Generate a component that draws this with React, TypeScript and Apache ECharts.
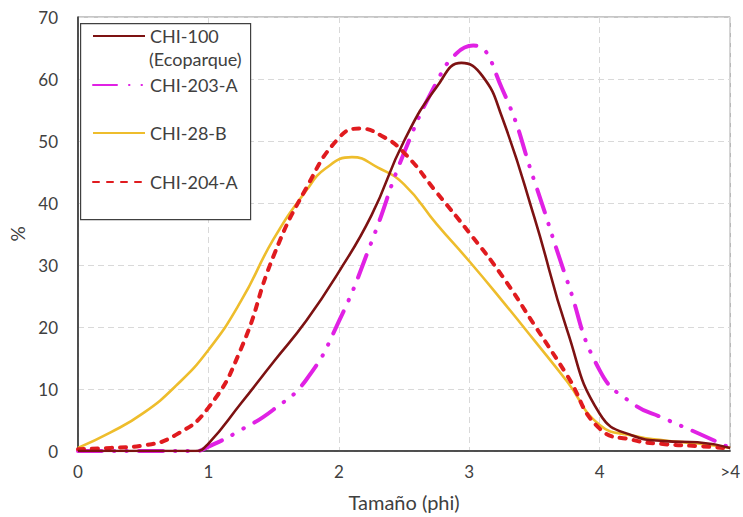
import React, { useEffect, useRef } from "react";
import * as echarts from "echarts";

const xTickLabels = ["0", "1", "2", "3", "4", ">4"]; // value 5 is shown as ">4"

const seriesNames = ["CHI-100 (Ecoparque)", "CHI-203-A", "CHI-28-B", "CHI-204-A"];

// CHI-100 (Ecoparque)
const chi100Phi = [0, 0.5, 0.9, 1, 1.25, 1.5, 1.75, 2, 2.25, 2.5, 2.75, 2.94, 3.1, 3.25, 3.5, 3.75, 4, 4.25, 4.5, 4.75, 5];
const chi100Pct = [0, 0, 0, 1.2, 7.7, 14.4, 21, 28.9, 38, 50, 58.7, 62.6, 60.5, 53.9, 37.6, 19.5, 6, 2.5, 1.6, 1.4, 0.5];
// CHI-203-A
const chi203Phi = [0, 0.5, 0.9, 1, 1.25, 1.5, 1.75, 2, 2.25, 2.5, 2.75, 2.9, 3.03, 3.25, 3.5, 3.75, 4, 4.25, 4.5, 4.75, 5];
const chi203Pct = [0, 0, 0, 0.7, 3.4, 6.7, 11.5, 20.9, 33.7, 48.1, 59.5, 64.1, 65.4, 58.5, 43.5, 27.5, 13, 7.7, 5.2, 2.9, 0.5];
// CHI-28-B
const chi28Phi = [0, 0.25, 0.5, 0.75, 1, 1.25, 1.5, 1.75, 1.9, 2.1, 2.3, 2.5, 2.75, 3, 3.25, 3.5, 3.75, 4, 4.25, 4.5, 4.75, 5];
const chi28Pct = [0.5, 3.0, 6.1, 10.5, 16.3, 24.2, 34.2, 42, 45.6, 47.4, 45.7, 43, 36.6, 30.6, 24.3, 17.8, 11.2, 4.2, 2.5, 1.7, 1.2, 0.5];
// CHI-204-A
const chi204Phi = [0, 0.25, 0.5, 0.75, 1, 1.25, 1.5, 1.75, 2, 2.16, 2.33, 2.5, 2.75, 3, 3.25, 3.5, 3.75, 4, 4.25, 4.5, 4.75, 5];
const chi204Pct = [0.3, 0.5, 0.9, 2.6, 7, 16.5, 31.5, 42.4, 50.5, 52, 50.8, 48.1, 41.7, 35.2, 28.3, 20.3, 12.2, 3.6, 1.8, 1.1, 0.8, 0.4];

const FONT = "Lato, 'Noto Sans', sans-serif";
const TXT = "#404040";

export default function App() {
  const ref = useRef<HTMLDivElement>(null);
  useEffect(() => {
    if (!ref.current) return;
    const chart = echarts.init(ref.current, null, { renderer: "svg" });
    const toPairs = (xs: number[], ys: number[]) => xs.map((x, i) => [x, ys[i]]);
    const legendBase = {
      left: 92,
      orient: "vertical",
      padding: 0,
      itemWidth: 52,
      itemHeight: 14,
      itemGap: 0,
      itemStyle: { opacity: 0 },
      selectedMode: false,
      textStyle: { fontFamily: FONT, fontSize: 18, color: TXT, lineHeight: 20 },
    };
    chart.setOption({
      animation: false,
      backgroundColor: "#fff",
      grid: {
        left: 78,
        right: 8,
        top: 17,
        bottom: 64,
        show: true,
        borderColor: "#8c8c8c",
        borderWidth: 1,
      },
      xAxis: {
        type: "value",
        min: 0,
        max: 5,
        interval: 1,
        name: "Tamaño (phi)",
        nameLocation: "middle",
        nameGap: 41,
        nameTextStyle: { fontFamily: FONT, fontSize: 20, color: TXT },
        axisLine: { show: true, lineStyle: { color: "#262626", width: 1.5 } },
        axisTick: { show: false },
        axisLabel: {
          fontFamily: FONT,
          fontSize: 17,
          color: TXT,
          margin: 12,
          formatter: (v: number) => xTickLabels[Math.round(v)] ?? "",
        },
        splitLine: { show: true, lineStyle: { color: "#d9d9d9", type: [6, 4] } },
      },
      yAxis: {
        type: "value",
        min: 0,
        max: 70,
        interval: 10,
        name: "%",
        nameLocation: "middle",
        nameRotate: 90,
        nameGap: 50,
        nameTextStyle: { fontFamily: FONT, fontSize: 19, color: TXT },
        axisLine: { show: true, lineStyle: { color: "#262626", width: 1.5 } },
        axisTick: { show: false },
        axisLabel: { fontFamily: FONT, fontSize: 17, color: TXT, margin: 20 },
        splitLine: { show: true, lineStyle: { color: "#d9d9d9", type: [6, 4] } },
      },
      legend: [
        { ...legendBase, top: 26, data: [seriesNames[0]], formatter: "CHI-100" },
        { ...legendBase, top: 75, data: [seriesNames[1]] },
        { ...legendBase, top: 123, data: [seriesNames[2]] },
        { ...legendBase, top: 172, data: [seriesNames[3]] },
      ],
      graphic: [
        {
          type: "rect",
          left: 80,
          top: 23,
          z: 3,
          shape: { width: 170, height: 196 },
          style: { fill: "#fff", stroke: "#404040", lineWidth: 1.2 },
        },
        {
          type: "text",
          left: 149,
          top: 50,
          z: 5,
          style: { text: "(Ecoparque)", fontSize: 18, fontFamily: FONT, fill: TXT },
        },
      ],
      series: [
        {
          name: seriesNames[0],
          type: "line",
          smooth: 0.5,
          symbol: "none",
          data: toPairs(chi100Phi, chi100Pct),
          z: 5,
          lineStyle: { color: "#7d1212", width: 2.6 },
          itemStyle: { color: "#7d1212" },
        },
        {
          name: seriesNames[1],
          type: "line",
          smooth: 0.5,
          symbol: "none",
          data: toPairs(chi203Phi, chi203Pct),
          z: 4,
          lineStyle: { color: "#e021e4", width: 4, type: [24, 12, 0.5, 12, 0.5, 12], cap: "round" },
          itemStyle: { color: "#e021e4" },
        },
        {
          name: seriesNames[2],
          type: "line",
          smooth: 0.5,
          symbol: "none",
          data: toPairs(chi28Phi, chi28Pct),
          z: 3,
          lineStyle: { color: "#eebd2c", width: 2.6 },
          itemStyle: { color: "#eebd2c" },
        },
        {
          name: seriesNames[3],
          type: "line",
          smooth: 0.5,
          symbol: "none",
          data: toPairs(chi204Phi, chi204Pct),
          z: 4,
          lineStyle: { color: "#e01b1f", width: 4, type: [6, 8], cap: "round" },
          itemStyle: { color: "#e01b1f" },
        },
      ],
    });
    return () => chart.dispose();
  }, []);
  return <div ref={ref} style={{ width: 743, height: 517, position: "absolute", left: 0, top: 0 }} />;
}
